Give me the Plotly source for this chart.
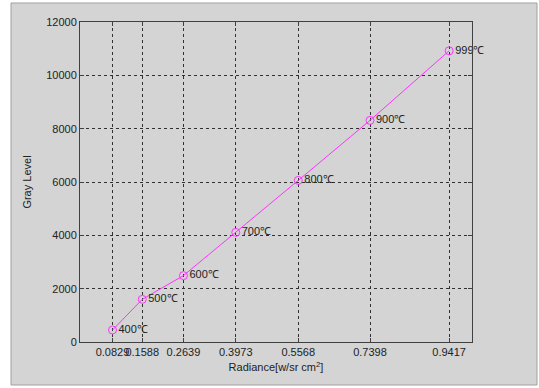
import plotly.graph_objects as go

radiance = [0.0829, 0.1588, 0.2639, 0.3973, 0.5568, 0.7398, 0.9417]
gray_level = [450, 1600, 2490, 4110, 6060, 8310, 10920]
labels = ["400℃", "500℃", "600℃", "700℃", "800℃", "900℃", "999℃"]
x_ticks = [0.0829, 0.1588, 0.2639, 0.3973, 0.5568, 0.7398, 0.9417]
x_ticktext = ["0.0829", "0.1588", "0.2639", "0.3973", "0.5568", "0.7398", "0.9417"]
y_ticks = [0, 2000, 4000, 6000, 8000, 10000, 12000]

W, H = 539, 388
L, R, T, B = 80, 67, 22, 46
pw, ph = W - L - R, H - T - B

def px(x):
    return (x - L) / pw

def py(y):
    return 1 - (y - T) / ph

fig = go.Figure()
fig.add_trace(go.Scatter(
    x=radiance, y=gray_level, mode="lines+markers+text",
    text=labels, textposition="middle right",
    textfont=dict(family="Liberation Sans, Arial", size=11, color="#222"),
    line=dict(color="#ff33ff", width=1),
    marker=dict(symbol="circle-open", size=8, color="#ff33ff", line=dict(width=1)),
    showlegend=False, cliponaxis=False,
))

fig.add_shape(type="rect", xref="paper", yref="paper",
              x0=px(11), x1=px(537), y0=py(385), y1=py(3),
              fillcolor="#d4d4d4", line=dict(color="#a0a0a0", width=1), layer="below")

axis_common = dict(showline=True, linecolor="#404040", linewidth=1, mirror="allticks",
                   ticks="inside", ticklen=4, tickcolor="#404040",
                   showgrid=True, gridcolor="#303030", griddash="dot", gridwidth=1,
                   zeroline=False,
                   tickfont=dict(family="Liberation Sans, Arial", size=11, color="#222"))

fig.update_xaxes(range=[0, 1], tickvals=x_ticks, ticktext=x_ticktext, tickangle=0,
                 title=dict(text="Radiance[w/sr cm<sup>2</sup>]", standoff=6,
                            font=dict(family="Liberation Sans, Arial", size=11, color="#222")),
                 **axis_common)
fig.update_yaxes(range=[0, 12000], tickvals=y_ticks, ticktext=[str(v) for v in y_ticks],
                 title=dict(text="Gray Level", standoff=12,
                            font=dict(family="Liberation Sans, Arial", size=11, color="#222")),
                 **axis_common)

fig.update_layout(width=W, height=H, margin=dict(l=L, r=R, t=T, b=B),
                  paper_bgcolor="white", plot_bgcolor="white")

fig.write_html("out.html")
